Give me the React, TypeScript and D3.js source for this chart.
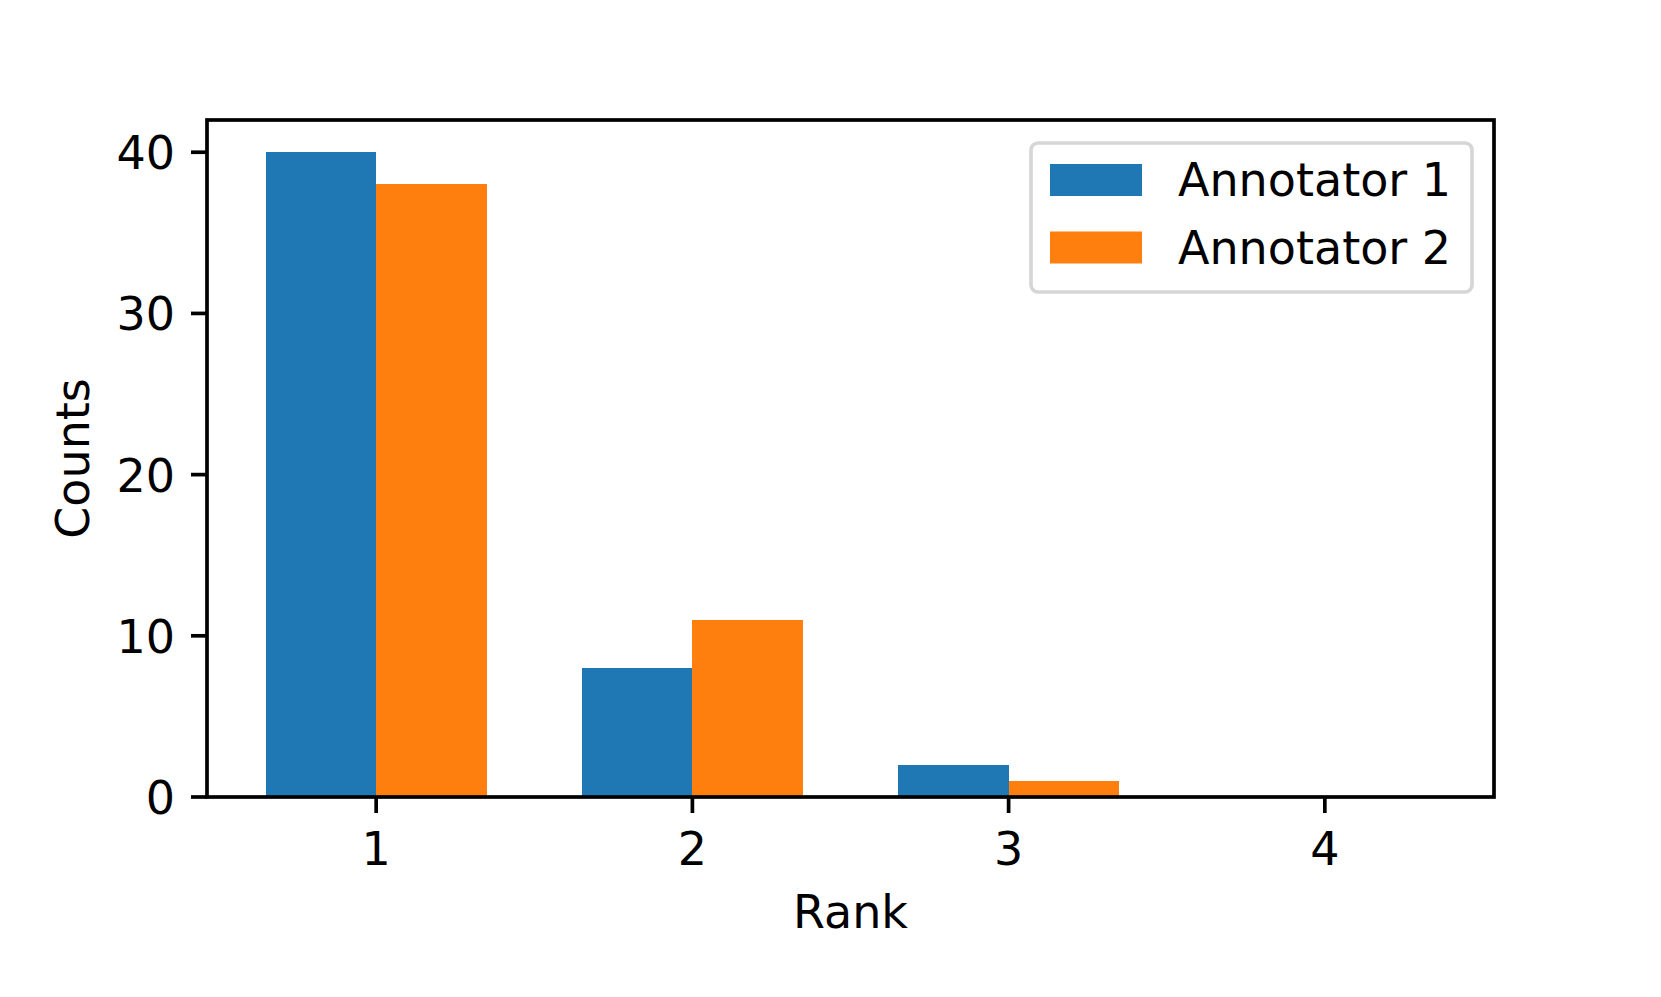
import React, { useEffect, useRef } from 'react';
import * as d3 from 'd3';

const ranks = [1, 2, 3, 4];
const annotator1 = [40, 8, 2, 0];
const annotator2 = [38, 11, 1, 0];
const seriesNames = ['Annotator 1', 'Annotator 2'];
const seriesColors = ['#1f77b4', '#ff7f0e'];
const yTicks = [0, 10, 20, 30, 40];

const App = () => {
  const ref = useRef<SVGSVGElement>(null);

  useEffect(() => {
    const svg = d3.select(ref.current);
    svg.selectAll('*').remove();

    const width = 1661;
    const height = 997;
    const left = 207, right = 1494, top = 120, bottom = 797;
    const font = 'DejaVu Sans';
    const fs = 46;
    const barW = 0.35;

    // matplotlib-like autoscale: 5% margin around bar extents
    const xmin = d3.min(ranks)! - barW, xmax = d3.max(ranks)! + barW;
    const xpad = (xmax - xmin) * 0.05;
    const x = d3.scaleLinear().domain([xmin - xpad, xmax + xpad]).range([left, right]);
    const ymax = d3.max([...annotator1, ...annotator2])! * 1.05;
    const y = d3.scaleLinear().domain([0, ymax]).range([bottom, top]);

    svg.attr('width', width).attr('height', height).style('font-family', font);
    svg.append('rect').attr('width', width).attr('height', height).attr('fill', '#fff');

    const series = [annotator1, annotator2];
    series.forEach((vals, s) => {
      svg.append('g')
        .attr('shape-rendering', 'crispEdges')
        .selectAll('rect')
        .data(vals)
        .join('rect')
          .attr('x', (d, i) => x(ranks[i] - barW + s * barW))
          .attr('width', (d, i) => x(ranks[i] + s * barW) - x(ranks[i] - barW + s * barW))
          .attr('y', d => y(d))
          .attr('height', d => y(0) - y(d))
          .attr('fill', seriesColors[s]);
    });

    // frame
    svg.append('rect')
      .attr('x', left).attr('y', top)
      .attr('width', right - left).attr('height', bottom - top)
      .attr('fill', 'none').attr('stroke', '#000').attr('stroke-width', 3.7);

    // x ticks
    const xt = svg.append('g');
    ranks.forEach(r => {
      xt.append('line').attr('x1', x(r)).attr('x2', x(r)).attr('y1', bottom).attr('y2', bottom + 16)
        .attr('stroke', '#000').attr('stroke-width', 3.7);
      xt.append('text').attr('x', x(r)).attr('y', bottom + 68).attr('text-anchor', 'middle')
        .attr('font-size', fs).text(r);
    });

    // y ticks
    const yt = svg.append('g');
    yTicks.forEach(v => {
      yt.append('line').attr('x1', left - 16).attr('x2', left).attr('y1', y(v)).attr('y2', y(v))
        .attr('stroke', '#000').attr('stroke-width', 3.7);
      yt.append('text').attr('x', left - 32).attr('y', y(v) + 17).attr('text-anchor', 'end')
        .attr('font-size', fs).text(v);
    });

    svg.append('text').attr('x', (left + right) / 2).attr('y', 928).attr('text-anchor', 'middle')
      .attr('font-size', fs).text('Rank');
    svg.append('text').attr('transform', `translate(89,${(top + bottom) / 2}) rotate(-90)`)
      .attr('text-anchor', 'middle').attr('font-size', fs).text('Counts');

    // legend
    const lg = svg.append('g');
    lg.append('rect').attr('x', 1031).attr('y', 143).attr('width', 441).attr('height', 149)
      .attr('rx', 7).attr('fill', '#fff').attr('fill-opacity', 0.8)
      .attr('stroke', '#d6d6d6').attr('stroke-width', 3.7);
    seriesNames.forEach((name, i) => {
      const yy = 164 + i * 67.5;
      lg.append('rect').attr('x', 1050).attr('y', yy).attr('width', 92).attr('height', 32)
        .attr('fill', seriesColors[i]);
      lg.append('text').attr('x', 1178).attr('y', yy + 32).attr('font-size', fs).text(name);
    });
  }, []);

  return <svg ref={ref} style={{ display: 'block', position: 'absolute', left: 0, top: 0 }}></svg>;
};

export default App;
